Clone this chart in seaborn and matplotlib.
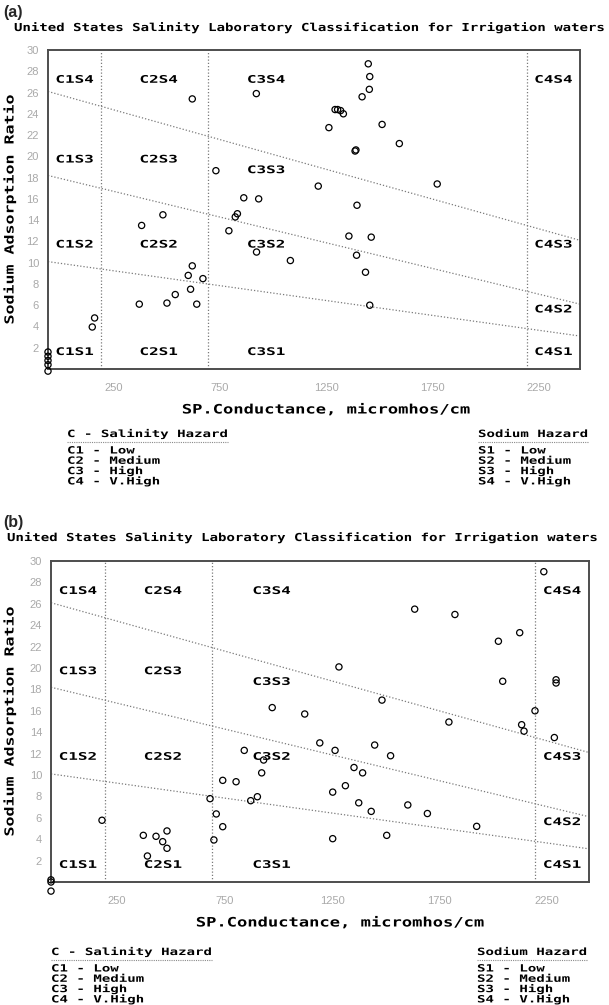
import matplotlib
matplotlib.use("Agg")
import matplotlib.pyplot as plt
import seaborn as sns
import pandas as pd
from matplotlib import patheffects as pe
from matplotlib.lines import Line2D
from matplotlib.transforms import Affine2D, ScaledTranslation

# ------------------------------------------------------------------ data
a_ec = [0, 0, 0, 0, 0, 208, 219, 429, 559, 598, 670, 699, 659, 728, 678, 440, 540, 678,
        789, 850, 880, 890, 920, 990, 980, 979, 1139, 1270, 1320, 1349, 1361, 1375, 1388,
        1443, 1447, 1452, 1414, 1519, 1450, 1492, 1512, 1476, 1505, 1512, 1510, 1570, 1651, 1829]
a_sar = [1.6, 1.2, 0.8, 0.4, -0.2, 3.95, 4.8, 6.1, 6.2, 7.0, 7.5, 6.1, 8.8, 8.5, 9.7, 13.5, 14.5, 25.4,
         18.65, 13.0, 14.3, 14.6, 16.1, 16.0, 11.0, 25.9, 10.2, 17.2, 22.7, 24.4, 24.4, 24.3, 24.0,
         20.5, 20.6, 15.4, 12.5, 12.4, 10.7, 9.1, 6.0, 25.6, 28.7, 27.5, 26.3, 23.0, 21.2, 17.4]

b_ec = [0, 0, 0, 237, 429, 488, 539, 519, 539, 448,
        739, 768, 798, 757, 798, 860, 898, 988, 979, 928, 959, 1028, 1179, 1249,
        1690, 1877, 2079, 2178, 1338, 2099, 2347, 2347, 1538, 2249, 1849, 2187, 2198, 2339,
        1320, 1504, 1578, 1408, 1448, 1309, 1368, 1430, 1488, 1658, 1749, 1978, 1309, 1560, 2290]
b_sar = [0.2, 0.0, -0.85, 5.77, 4.36, 4.27, 4.77, 3.77, 3.15, 2.43,
         7.79, 6.36, 5.17, 3.93, 9.5, 9.37, 12.3, 11.4, 10.2, 7.6, 7.97, 16.3, 15.7, 13.0,
         25.5, 25.0, 22.5, 23.3, 20.1, 18.76, 18.9, 18.6, 17.0, 16.0, 14.95, 14.7, 14.1, 13.5,
         12.3, 12.8, 11.8, 10.7, 10.2, 8.4, 9.0, 7.4, 6.6, 7.2, 6.4, 5.2, 4.05, 4.36, 29.0]

class_bounds = [250, 750, 2250]          # salinity class limits (micromhos/cm)
s_line_ec = [0, 2500]                    # sodium-hazard boundary lines
s_line_sar_start = [10.1, 18.2, 26.1]
s_line_sar_end = [3.1, 6.1, 12.1]

x_ticks = [250, 750, 1250, 1750, 2250]
y_ticks = [2, 4, 6, 8, 10, 12, 14, 16, 18, 20, 22, 24, 26, 28, 30]

zone_names = ["C1S1", "C1S2", "C1S3", "C1S4",
              "C2S1", "C2S2", "C2S3", "C2S4",
              "C3S1", "C3S2", "C3S3", "C3S4",
              "C4S1", "C4S2", "C4S3", "C4S4"]
salinity_legend = ["C1 - Low", "C2 - Medium", "C3 - High", "C4 - V.High"]
sodium_legend = ["S1 - Low", "S2 - Medium", "S3 - High", "S4 - V.High"]
title_text = "United States Salinity Laboratory Classification for Irrigation waters"
x_label = "SP.Conductance, micromhos/cm"
y_label = "Sodium Adsorption Ratio"

# ------------------------------------------------------------------ layout
W, H, DPI = 609, 1005, 100
col_center = {"C1": 125, "C2": 520, "C3": 1025, "C4": 2375}
row_y = {"S1": 1.6, "S2": 11.7, "S3": 19.7, "S4": 27.2}
row_y_special = {"C3S3": 18.7, "C4S2": 5.6, "C4S3": 11.7}

panels = [
    dict(ec=a_ec, sar=a_sar, tag="(a)", box=(48, 50, 580, 369),
         tag_y=13, title_x=14, title_y=28, xlab_x=326, leg_l=67, leg_r=478,
         leg_head=65, leg_row=81.5),
    dict(ec=b_ec, sar=b_sar, tag="(b)", box=(51, 561, 589, 882),
         tag_y=522, title_x=7, title_y=538, xlab_x=340, leg_l=51, leg_r=477,
         leg_head=70, leg_row=86.5),
]

sns.set_style("white")
plt.rcParams["font.family"] = ["DejaVu Sans"]

MONO = "DejaVu Sans Mono"
ADV = 0.602  # advance width of DejaVu Sans Mono (em)


class Stretch(pe.AbstractPathEffect):
    """Widen glyphs along the writing direction (pixel-font look)."""
    def __init__(self, s, vertical=False):
        super().__init__()
        self.s = s
        self.vertical = vertical

    def draw_path(self, renderer, gc, tpath, affine, rgbFace=None):
        m = affine.get_matrix()
        x0, y0 = m[0, 2], m[1, 2]
        if self.vertical:
            st = Affine2D().translate(0, -y0).scale(1, self.s).translate(0, y0)
        else:
            st = Affine2D().translate(-x0, 0).scale(self.s, 1).translate(x0, 0)
        renderer.draw_path(gc, tpath, affine + st, rgbFace)


def mono_text(fig, x, y, s, em, pitch, center=False, transform=None, rot=0,
              color="black"):
    """x,y in figure px (top-down) unless a transform is given."""
    size = em * 72 / DPI
    sx = pitch / (ADV * em)
    total = len(s) * pitch
    eff = [Stretch(sx, vertical=(rot == 90))]
    if rot == 90:
        yb = y + (total / 2 if center else 0)
        return fig.text(x / W, 1 - yb / H, s, rotation=90, ha="center", va="bottom",
                        fontsize=size, family=MONO, weight="bold", color=color,
                        path_effects=eff)
    if transform is None:
        xl = x - (total / 2 if center else 0)
        return fig.text(xl / W, 1 - y / H, s, ha="left", va="center", fontsize=size,
                        family=MONO, weight="bold", color=color, path_effects=eff)
    off = ScaledTranslation(-(total / 2) / DPI if center else 0, 0, fig.dpi_scale_trans)
    return fig.text(x, y, s, ha="left", va="center", fontsize=size, family=MONO,
                    weight="bold", color=color, path_effects=eff,
                    transform=transform + off)


fig = plt.figure(figsize=(W / DPI, H / DPI), dpi=DPI)

for p in panels:
    l, t, r, b = p["box"]
    ax = fig.add_axes([l / W, 1 - b / H, (r - l) / W, (b - t) / H])
    df = pd.DataFrame({"ec": p["ec"], "sar": p["sar"]})

    for cb in class_bounds:
        ax.axvline(cb, color="#7a7a7a", lw=0.9, ls=(0, (1, 1.6)), zorder=1)
    for s0, s1 in zip(s_line_sar_start, s_line_sar_end):
        sns.lineplot(x=s_line_ec, y=[s0, s1], ax=ax, color="#7a7a7a", lw=0.9,
                     ls=(0, (1, 1.6)), zorder=1)
    sns.scatterplot(data=df, x="ec", y="sar", ax=ax, marker="o", s=20,
                    facecolor="none", edgecolor="black", linewidth=0.9,
                    clip_on=False, zorder=5)

    ax.set_xlim(0, 2500)
    ax.set_ylim(0, 30)
    ax.set_xlabel("")
    ax.set_ylabel("")
    ax.set_xticks(x_ticks)
    ax.set_yticks(y_ticks)
    ax.tick_params(length=0, labelsize=8, labelcolor="#a9a9a9")
    ax.tick_params(axis="x", pad=10)
    ax.tick_params(axis="y", pad=6.5)
    for lab in ax.get_xticklabels():
        lab.set_transform(lab.get_transform() +
                          ScaledTranslation(12 / DPI, 0, fig.dpi_scale_trans))
        lab.set_family("Liberation Sans")
    for lab in ax.get_yticklabels():
        lab.set_family("Liberation Sans")
    for sp in ax.spines.values():
        sp.set_color("#4d4d4d")
        sp.set_linewidth(1.4)

    for z in zone_names:
        xc = col_center[z[:2]]
        yv = row_y_special.get(z, row_y[z[2:]])
        mono_text(fig, xc, yv, z, em=10.5, pitch=9.6, center=True,
                  transform=ax.transData)

    fig.text(3 / W, 1 - p["tag_y"] / H, p["tag"], ha="left", va="center",
             fontsize=11.5, family="Liberation Sans", weight="bold")
    mono_text(fig, p["title_x"], p["title_y"], title_text, em=11.0, pitch=8.44)

    mono_text(fig, p["xlab_x"], b + 41, x_label, em=13.0, pitch=10.3, center=True)
    mono_text(fig, 10, (t + b) / 2, y_label, em=12.5, pitch=10.0, center=True, rot=90)

    for xl, head, items in [(p["leg_l"], "C - Salinity Hazard", salinity_legend),
                            (p["leg_r"], "Sodium Hazard", sodium_legend)]:
        mono_text(fig, xl, b + p["leg_head"], head, em=10.0, pitch=8.47)
        fig.add_artist(Line2D([xl / W, (xl + len(head) * 8.47) / W],
                              [1 - (b + p["leg_head"] + 7.5) / H] * 2,
                              transform=fig.transFigure,
                              color="#8a8a8a", lw=0.8, ls=(0, (1, 1))))
        for i, it in enumerate(items):
            mono_text(fig, xl, b + p["leg_row"] + i * 10.3, it, em=10.0, pitch=8.47)

fig.savefig("out.png", dpi=DPI)
